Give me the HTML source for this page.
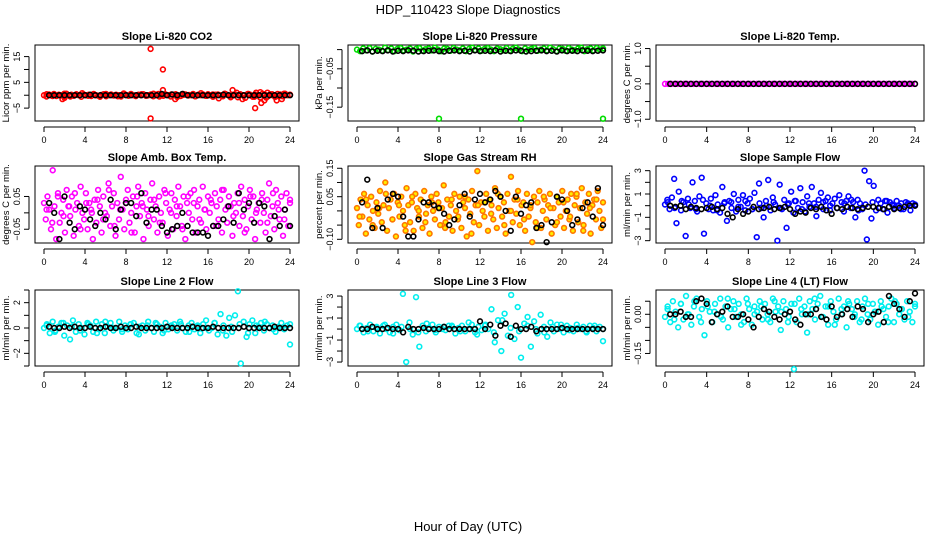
<!DOCTYPE html>
<html><head><meta charset="utf-8"><style>
body{margin:0;background:#fff;}
svg{display:block;font-family:"Liberation Sans",sans-serif;}
</style></head><body>
<svg id="c" width="936" height="540" viewBox="0 0 936 540">
<text x="468" y="14" text-anchor="middle" font-size="13">HDP_110423  Slope Diagnostics</text>
<text x="468" y="531" text-anchor="middle" font-size="13">Hour of Day (UTC)</text>
</svg>
<script>
const xTicks=[0,4,8,12,16,20,24];
// CO2
const co2Vals=[0,-0.5,0.3,0,0.5,-0.3,0.2,0,-0.4,0.6,0,0.2,-0.2,0.4,0,-0.6,0.3,0,0.2,-0.3,0.5,0,-0.2,0.1,0.4,-0.4,0,0.3,-0.1,0.2,0,-0.5,0.3,0.1,-0.2,0.5,0,-0.3,0.2,0,0.4,-0.2,0,0.3,-0.4,0.1,0.5,0,-0.2,0.3,0,-0.5,0.2,0.4,0,-0.3,0.1,0.3,-0.1,0,0.5,-0.4,0.2,0,0.3,-0.2,0.4,0,-0.6,0.2,0.3,0,-0.4,0.5,0.1,-0.2,0,0.3,-0.8,0.4,0,-1,0.5,0.2,-0.6,0.3,0,-0.9,0.6,0.2,-0.5,0.4,0,-0.7,0.5,0.3,-0.4,0.6,0,0.2];
const co2Extra=[0.4,-0.3,0.1,0.6,-0.5,0.2,0.8,-0.2,0.3,-0.6,0.5,0.1,-0.4,0.7,0,-0.3,0.4,-0.1,0.6,-0.5,0.2,0.3,-0.7,0.5,0.1,-0.4,0.8,-0.2,0.3,-1.2,0.6,-0.8,1.0,-1.5,0.5,-0.6,1.2,-0.9,0.4,-0.3,0.6,0.2];
const co2OutT=[10.4,10.4,11.6,11.6,18.4,20.6,21.2,21.5,22.7,23.2,1.8,12.8,21.8,20.7,2.0];
const co2OutV=[18,-9,10,2,2,-5,-3,-2,-2,-1.5,-1.5,-1.5,1,1,-1];
const co2Black=[0,0,0,0,0,0,0,0,0.2,0,0,0,0,0,0,0,0,0,0,0,0,0,0.5,0,0.3,0,0.5,0,0,0,0,0,0,0,0.2,0,0,0,0,0,0,0,0,0,0,0,0,0];
// Pressure
const presVals=[0,-0.004,0.003,-0.002,0.004,-0.005,0.002,0,-0.003,0.005,-0.001,0.003,-0.004,0.002,0.004,-0.002,0,0.003,-0.005,0.002,0.004,-0.003,0.001,0.003,-0.002,0.005,0,-0.004,0.003,0.002,-0.003,0.004,0,-0.002,0.003,-0.004,0.002,0.005,-0.001,0.003,-0.003,0.002,0.004,0,-0.004,0.003,0.001,-0.002,0.004,-0.003,0.002,0.005,0,-0.004,0.003,-0.001,0.002,0.004,-0.003,0,0.003,-0.002,0.005,0.001,-0.004,0.003,0.002,-0.003,0.004,0,-0.002,0.003,0.005,-0.004,0.001,0.003,-0.002,0.004,0,0.003];
const presOutT=[8,16,24];
const presOutV=[-0.18,-0.18,-0.18];
const presBlack=[-0.004,-0.002,-0.005,-0.003,-0.004,-0.002,-0.005,-0.003,-0.004,-0.002,-0.003,-0.005,-0.004,-0.003,-0.002,-0.004,-0.005,-0.003,-0.002,-0.004,-0.003,-0.005,-0.002,-0.004,-0.003,-0.004,-0.002,-0.005,-0.003,-0.004,-0.002,-0.003,-0.005,-0.004,-0.003,-0.002,-0.004,-0.003,-0.005,-0.002,-0.004,-0.003,-0.004,-0.002,-0.003,-0.004,-0.003,-0.002];
// Temp
const tempVals=[0,0,0,0,0,0,0,0,0,0,0,0,0,0,0,0,0,0,0,0,0,0,0,0,0,0,0,0,0,0,0,0,0,0,0,0,0,0,0,0,0,0,0,0,0,0,0,0,0,0,0,0,0,0,0,0,0,0,0,0,0,0,0,0,0,0,0,0,0,0,0,0,0,0,0,0,0,0,0,0];
const tempBlack=[0,0,0,0,0,0,0,0,0,0,0,0,0,0,0,0,0,0,0,0,0,0,0,0,0,0,0,0,0,0,0,0,0,0,0,0,0,0,0,0,0,0,0,0,0,0,0,0];
// Amb box temp
const ambVals=[0.03,-0.02,0.05,0.01,-0.05,0.13,0.02,-0.08,0.06,-0.03,0.00,0.04,-0.06,0.07,0.02,-0.01,0.05,-0.07,0.01,0.03,-0.04,0.08,0.00,-0.02,0.06,-0.05,0.03,0.01,-0.08,0.04,-0.03,0.07,0.02,-0.06,0.05,0.00,-0.01,0.09,-0.04,0.02,0.06,-0.07,0.03,-0.02,0.11,0.01,-0.05,0.04,0.07,-0.03,0.00,0.05,-0.06,0.02,0.08,-0.01,0.03,-0.08,0.06,0.01,-0.04,0.04,0.09,-0.02,0.02,-0.06,0.05,0.00,-0.03,0.07,0.03,-0.07,0.01,0.06,-0.05,0.04,-0.01,0.08,0.02,-0.04,0.05,-0.08,0.03,0.00,0.06,-0.02,0.07,-0.06,0.02,0.04,-0.03,0.08,0.01,-0.05,0.05,0.00,0.03,-0.04,0.06,0.02,-0.02,0.04,-0.06,0.07,0.01,-0.03,0.05,0.02,-0.07,0.03,0.00,0.06,-0.04,0.08,-0.01,0.04,-0.05,0.02,0.07,-0.02,0.05,-0.08,0.01,0.03,-0.03,0.06,0.00,-0.06,0.04,0.09,-0.01,0.02,-0.05,0.07,0.03,-0.02,0.05,-0.07,0.01,0.06,-0.04,0.04];
const ambExtra=[0.01,-0.03,0.05,-0.01,0.02,0.06,-0.05,0.03,0.00,0.04,-0.02,0.07,-0.04,0.01,0.03,-0.06,0.05,0.02,-0.01,0.04,-0.03,0.06,0.00,0.02,-0.05,0.05,0.03,-0.02,0.01,0.04,-0.04,0.07,0.02,-0.01,0.03,-0.06,0.05,0.00,0.04,-0.03,0.06,0.01,-0.02,0.03];
const ambBlack=[0.03,0.00,-0.08,0.05,-0.03,-0.05,0.02,0.01,-0.02,-0.04,0.00,-0.02,0.04,-0.05,0.01,0.03,0.03,-0.01,0.06,-0.03,0.01,0.01,-0.04,-0.06,-0.05,-0.04,0.00,-0.04,-0.06,-0.06,-0.06,-0.07,-0.04,-0.04,-0.02,0.02,-0.03,0.06,0.01,0.03,-0.03,0.03,0.02,-0.08,-0.01,-0.04,0.01,-0.04];
// Gas stream RH
const rhVals=[0.01,-0.05,0.04,-0.02,0.06,-0.08,0.02,-0.03,0.05,0.00,-0.06,0.03,-0.01,0.07,-0.04,0.02,0.10,-0.07,0.01,0.04,-0.03,0.06,-0.09,0.03,-0.02,0.05,0.00,-0.05,0.08,0.02,-0.04,0.03,-0.07,0.06,0.01,-0.02,0.04,-0.06,0.07,-0.01,0.02,-0.08,0.05,0.00,-0.03,0.06,0.03,-0.05,0.01,0.09,-0.04,0.04,-0.02,0.02,-0.07,0.06,0.00,-0.03,0.05,-0.06,0.03,0.01,-0.09,0.04,-0.01,0.07,-0.04,0.02,0.14,-0.05,0.03,0.00,-0.02,0.06,-0.07,0.04,0.02,-0.03,0.08,-0.06,0.01,0.05,-0.02,0.03,-0.08,0.06,0.00,0.12,-0.04,0.04,-0.01,0.07,-0.05,0.02,0.03,-0.07,0.06,-0.02,0.01,-0.11,0.05,-0.04,0.03,0.07,-0.06,0.00,0.04,-0.03,0.02,0.06,-0.08,0.01,-0.05,0.05,0.03,-0.02,0.07,-0.06,0.00,0.04,-0.03,0.06,-0.07,0.02,0.05,-0.04,0.01,0.08,-0.05,0.03,-0.01,0.06,-0.08,0.02,0.04,-0.03,0.07,0.00,-0.06,0.03];
const rhExtra=[-0.02,0.04,-0.05,0.01,0.06,-0.03,0.02,-0.07,0.05,0.00,-0.04,0.03,0.01,-0.06,0.04,-0.02,0.05,-0.08,0.02,0.03,-0.01,0.06,-0.05,0.00,0.04,-0.03,0.02,-0.06,0.05,0.01,-0.04,0.03,-0.02,0.06,-0.07,0.01,0.04,-0.03];
const rhBlack=[0.03,0.11,-0.06,0.01,-0.06,0.04,0.06,0.05,-0.02,-0.09,-0.09,-0.03,0.03,0.03,0.02,0.01,-0.01,-0.05,-0.03,0.02,0.06,-0.02,0.04,0.06,0.03,0.04,0.07,0.05,0.00,-0.07,0.05,-0.01,0.02,0.03,-0.06,-0.05,-0.11,-0.04,0.05,0.04,0.00,-0.05,-0.03,0.01,0.03,-0.02,0.08,-0.05];
// Sample flow
const sfVals=[0.1,0.5,-0.3,0.7,2.3,-1.5,1.2,-0.4,0.3,-2.6,0.6,-0.2,2.0,0.4,-0.5,0.8,2.4,-2.4,0.2,-0.3,0.6,-0.4,0.9,0.1,-0.6,1.6,0.3,-1.3,0.4,-0.2,1.0,-0.5,0.5,-0.1,0.9,-0.4,0.2,0.6,-0.3,1.1,-2.7,1.9,-0.2,-1.0,0.4,2.2,-0.4,0.7,0.1,-3.0,1.8,-0.3,0.5,-1.9,0.2,1.2,-0.6,0.4,-0.2,1.5,0.3,-0.5,0.8,-0.1,1.6,0.2,-0.9,0.5,1.1,-0.3,0.4,0.7,-0.4,0.2,0.6,-0.2,0.9,0.3,-0.5,0.4,0.8,-0.2,0.3,-1.0,0.5,0.2,-0.3,3.0,-2.9,2.1,-1.1,1.7,-0.4,0.5,0.2,-0.3,0.4,-0.6,0.3,0.1,-0.2,0.4,0.0,0.2,-0.3,0.3,0.1,-0.4,0.2,0.0];
const sfExtra=[0.3,-0.2,0.4,0.1,-0.3,0.5,0.0,-0.4,0.2,0.3,-0.1,0.4,-0.3,0.2,0.0,0.3,-0.2,0.1,0.4,-0.3,0.2,-0.1,0.3,0.0,-0.2,0.2,0.5,-0.4,0.1,0.3,-0.2,0.4,0.0,-0.3,0.2,0.1];
const sfBlack=[0.0,-0.1,0.0,-0.3,-0.1,-0.2,-0.3,-0.2,-0.1,-0.3,-0.2,-0.7,-1.0,-0.3,-0.7,-0.5,-0.1,-0.3,-0.2,-0.1,-0.3,-0.2,-0.1,-0.3,-0.7,-0.5,-0.6,-0.2,-0.3,-0.1,-0.4,-0.7,-0.2,-0.3,-0.1,-0.2,-0.3,-0.2,-0.1,-0.1,-0.2,-0.3,-0.1,-0.3,-0.2,-0.1,0.0,0.0];
// Line 2 flow
const l2Vals=[0.0,0.3,-0.4,0.5,-0.2,0.1,0.4,-0.6,0.2,-0.9,0.6,-0.3,0.3,0.0,-0.5,0.4,0.2,-0.3,0.5,-0.1,0.3,-0.4,0.1,0.4,-0.2,0.0,0.5,-0.3,0.2,-0.1,0.3,0.4,-0.4,0.1,0.2,-0.2,0.5,0.0,-0.3,0.3,0.1,-0.4,0.4,-0.1,0.2,0.3,-0.2,0.5,0.0,-0.3,0.2,0.4,-0.1,0.1,-0.4,0.3,0.6,-0.2,0.0,0.4,-0.5,1.1,0.2,-0.6,0.8,-0.3,1.0,2.9,-2.8,0.5,-0.7,0.3,0.6,-0.4,0.1,0.4,-0.2,0.3,0.0,0.2,-0.3,0.1,0.4,-0.1,0.2,-1.3];
const l2Extra=[0.2,-0.3,0.4,0.1,-0.2,0.3,-0.4,0.5,0.0,-0.1,0.3,-0.5,0.2,0.4,-0.2,0.1,0.3,-0.3,0.2,0.0,0.4,-0.2,0.1,0.3,-0.4,0.2,0.5,-0.1,0.0,0.3];
const l2Black=[0.1,0.0,0.0,0.1,0.0,0.1,0.0,0.0,0.1,0.0,0.0,0.1,0.0,0.0,0.1,0.0,0.0,0.1,0.0,0.0,0.0,0.0,0.0,0.1,0.0,0.0,0.0,0.0,0.1,0.0,0.0,0.0,0.1,0.0,0.0,0.0,0.0,0.0,0.1,0.0,0.0,0.0,0.0,0.0,0.1,0.0,0.0,0.0];
// Line 3 flow
const l3Vals=[0.0,0.3,-0.3,0.1,0.4,-0.2,0.2,-0.4,0.3,0.0,-0.3,0.2,0.4,-0.1,3.2,-3.0,0.6,-0.5,2.9,-1.6,0.3,-0.2,0.1,0.4,-0.3,0.2,0.0,-0.1,0.3,0.2,-0.4,0.1,0.3,-0.2,0.0,0.4,-0.3,0.2,-0.1,0.3,0.0,1.8,-1.2,0.8,-2.0,1.4,-0.6,3.1,-0.9,2.0,-2.6,0.5,1.1,-1.6,0.7,-0.4,1.3,0.2,-0.7,0.6,-0.2,0.4,0.0,-0.3,0.3,0.1,-0.2,0.4,0.0,0.2,-0.3,0.3,0.1,-0.2,0.2,-1.1];
const l3Extra=[0.3,-0.2,0.1,0.4,-0.4,0.2,0.0,-0.3,0.5,-0.1,0.2,0.3,-0.2,0.6,-0.5,0.4,-0.3,0.8,0.1,-0.2,0.3,0.0,-0.3,0.2,0.4,-0.1,0.1,-0.2,0.3,0.0];
const l3Black=[0.0,0.0,0.2,0.0,0.0,0.1,0.0,0.0,-0.3,0.2,0.0,0.0,0.1,0.0,0.0,0.0,0.2,0.0,0.0,0.0,0.0,0.0,0.0,0.7,0.0,0.4,-0.6,0.3,0.5,-0.7,0.3,0.0,0.0,0.2,-0.2,0.0,0.0,0.0,0.0,0.1,0.0,0.0,0.0,0.0,0.0,0.0,0.0,0.0];
// Line 4 flow
const l4Vals=[-0.01,0.03,-0.03,0.05,0.01,-0.05,0.04,-0.02,0.07,0.00,-0.04,0.03,0.06,-0.01,0.02,-0.08,0.05,0.01,-0.03,0.04,0.00,0.06,-0.02,0.03,-0.05,0.02,0.05,-0.01,0.04,0.00,-0.03,0.06,0.02,-0.04,0.03,0.01,0.05,-0.02,0.04,0.00,-0.03,0.06,0.01,0.03,-0.06,0.05,0.02,-0.01,0.04,-0.21,-0.03,0.06,0.00,0.03,-0.07,0.05,0.02,-0.02,0.04,0.07,-0.01,0.03,-0.04,0.05,0.01,-0.02,0.06,0.00,0.03,-0.05,0.04,0.02,-0.01,0.05,-0.03,0.03,0.06,0.00,-0.02,0.04,0.01,-0.04,0.05,0.02,-0.01,0.03,0.06,-0.03,0.04,0.00,0.02,-0.02,0.05,0.01,-0.03,0.03];
const l4Extra=[0.02,-0.02,0.04,0.00,0.05,-0.03,0.03,0.01,-0.01,0.06,0.02,-0.04,0.04,0.00,0.03,-0.02,0.05,0.01,-0.03,0.04,0.02,0.00,0.06,-0.01,0.03,-0.04,0.02,0.05,0.00,-0.02,0.04,0.01,0.03,-0.03,0.05,0.02,-0.01,0.04];
const l4Black=[0.00,0.00,0.01,-0.01,-0.01,0.05,0.06,0.04,-0.03,0.00,0.01,0.03,-0.01,-0.01,0.00,-0.02,-0.05,-0.01,0.02,0.01,-0.01,-0.02,0.00,0.01,-0.02,-0.04,0.00,0.00,0.02,-0.01,-0.02,0.03,-0.01,0.00,0.02,-0.01,0.03,0.02,-0.03,0.00,0.01,-0.03,0.07,0.04,0.02,-0.01,0.05,0.08];

const svg=document.getElementById('c');
const NS='http://www.w3.org/2000/svg';
function mk(tag,attrs,parent){const e=document.createElementNS(NS,tag);for(const k in attrs)e.setAttribute(k,attrs[k]);(parent||svg).appendChild(e);return e;}

const cols=[{l:35,r:299},{l:348,r:612},{l:656,r:924}];
const rows=[{t:45,b:121},{t:166,b:243},{t:290,b:366}];

const panels=[
 {title:'Slope Li-820 CO2',ylab:'Licor ppm per min.',c:0,r:0,min:-10,max:19.5,ticks:[-5,0,5,10,15],labs:[-5,5,15],fmt:0,col:'#ff0000',fill:'none',vals:co2Vals,extra:co2Extra,black:co2Black,outT:co2OutT,outV:co2OutV,key:'co2'},
 {title:'Slope Li-820 Pressure',ylab:'kPa per min.',c:1,r:0,min:-0.186,max:0.012,ticks:[-0.15,-0.10,-0.05,0],labs:[-0.15,-0.05],fmt:2,col:'#00dd00',fill:'none',vals:presVals,extra:[],black:presBlack,outT:presOutT,outV:presOutV,key:'pressure'},
 {title:'Slope Li-820 Temp.',ylab:'degrees C per min.',c:2,r:0,min:-1.05,max:1.1,ticks:[-1,-0.5,0,0.5,1],labs:[-1,0,1],fmt:1,col:'#ff00ff',fill:'none',vals:tempVals,extra:[],black:tempBlack,outT:[],outV:[],key:'li-temp'},
 {title:'Slope Amb. Box Temp.',ylab:'degrees C per min.',c:0,r:1,min:-0.092,max:0.143,ticks:[-0.05,0,0.05],labs:[-0.05,0.05],fmt:2,col:'#ff00ff',fill:'none',vals:ambVals,extra:ambExtra,black:ambBlack,outT:[],outV:[],key:'amb-temp'},
 {title:'Slope Gas Stream RH',ylab:'percent per min.',c:1,r:1,min:-0.113,max:0.158,ticks:[-0.10,-0.05,0,0.05,0.10,0.15],labs:[-0.10,0.05,0.15],fmt:2,col:'#ff7700',fill:'#ffee00',vals:rhVals,extra:rhExtra,black:rhBlack,outT:[],outV:[],key:'rh'},
 {title:'Slope Sample Flow',ylab:'ml/min per min.',c:2,r:1,min:-3.2,max:3.4,ticks:[-3,-2,-1,0,1,2,3],labs:[-3,-1,1,3],fmt:0,col:'#0000ff',fill:'none',vals:sfVals,extra:sfExtra,black:sfBlack,outT:[],outV:[],key:'sample-flow'},
 {title:'Slope Line 2 Flow',ylab:'ml/min per min.',c:0,r:2,min:-3,max:3,ticks:[-3,-2,-1,0,1,2,3],labs:[-2,0,2],fmt:0,col:'#00eeee',fill:'none',vals:l2Vals,extra:l2Extra,black:l2Black,outT:[],outV:[],key:'line2'},
 {title:'Slope Line 3 Flow',ylab:'ml/min per min.',c:1,r:2,min:-3.36,max:3.55,ticks:[-3,-2,-1,0,1,2,3],labs:[-3,-1,1,3],fmt:0,col:'#00eeee',fill:'none',vals:l3Vals,extra:l3Extra,black:l3Black,outT:[],outV:[],key:'line3'},
 {title:'Slope Line 4 (LT) Flow',ylab:'ml/min per min.',c:2,r:2,min:-0.198,max:0.093,ticks:[-0.15,-0.10,-0.05,0,0.05],labs:[-0.15,0],fmt:2,col:'#00eeee',fill:'none',vals:l4Vals,extra:l4Extra,black:l4Black,outT:[],outV:[],key:'line4'}
];

function fmtLab(v,d){let s=v.toFixed(d);if(v<0)s='\u2212'+s.slice(1);return s;}

panels.forEach(p=>{
 const C=cols[p.c],R=rows[p.r];
 const x0=C.l+9,x1=C.r-9;
 const xs=t=>x0+(t/24)*(x1-x0);
 const ys=v=>R.b-(v-p.min)/(p.max-p.min)*(R.b-R.t);
 const g=mk('g',{});
 
 
 const tt=mk('text',{x:(C.l+C.r)/2,y:R.t-5,'text-anchor':'middle','font-size':11,'font-weight':'bold'},g);
 tt.textContent=p.title;
 
 
 const box=mk('rect',{x:C.l,y:R.t,width:C.r-C.l,height:R.b-R.t,fill:'none',stroke:'#000','stroke-width':1},g);
 
 
 const xa=mk('g',{},g);
 
 
 mk('line',{x1:xs(0),x2:xs(24),y1:R.b+6,y2:R.b+6,stroke:'#000'},xa);
 xTicks.forEach(t=>{
  mk('line',{x1:xs(t),x2:xs(t),y1:R.b+6,y2:R.b+11,stroke:'#000'},xa);
  const tx=mk('text',{x:xs(t),y:R.b+22,'text-anchor':'middle','font-size':9},xa);
  tx.textContent=t;
  
  
 });
 const ya=mk('g',{},g);
 
 
 const tmin=Math.min(...p.ticks),tmax=Math.max(...p.ticks);
 mk('line',{x1:C.l-6,x2:C.l-6,y1:ys(tmin),y2:ys(tmax),stroke:'#000'},ya);
 p.ticks.forEach(v=>{mk('line',{x1:C.l-11,x2:C.l-6,y1:ys(v),y2:ys(v),stroke:'#000'},ya);});
 p.labs.forEach(v=>{
  const ty=C.l-15,tyy=ys(v);
  const tx=mk('text',{x:ty,y:tyy,'text-anchor':'middle','font-size':9,transform:`rotate(-90 ${ty} ${tyy})`},ya);
  tx.textContent=fmtLab(v,p.fmt);
  
  
 });
 const yl=C.l-26,ym=(R.t+R.b)/2;
 const ylt=mk('text',{x:yl,y:ym,'text-anchor':'middle','font-size':9.5,transform:`rotate(-90 ${yl} ${ym})`},g);
 ylt.textContent=p.ylab;
 
 
 const pg=mk('g',{},g);
 
 
 [p.vals,p.extra].forEach((arr,k)=>{
  const n=arr.length;
  const off=k?0.25:0;
  arr.forEach((v,i)=>{
   const t=off+i*(24-off)/(n-1);
   const c=mk('circle',{cx:xs(t),cy:ys(v),r:2.4,fill:p.fill,stroke:p.col,'stroke-width':1.6},pg);
   
   
  });
 });
 p.outT.forEach((t,i)=>{
  const c=mk('circle',{cx:xs(t),cy:ys(p.outV[i]),r:2.4,fill:'none',stroke:p.col,'stroke-width':1.6},pg);
  
  
 });
 const bg=mk('g',{},g);
 
 
 const m=p.black.length;
 p.black.forEach((v,i)=>{
  const c=mk('circle',{cx:xs(0.5+i*23.5/(m-1)),cy:ys(v),r:2.4,fill:'none',stroke:'#000','stroke-width':1.6},bg);
  
  
 });
});
</script>
</body></html>
